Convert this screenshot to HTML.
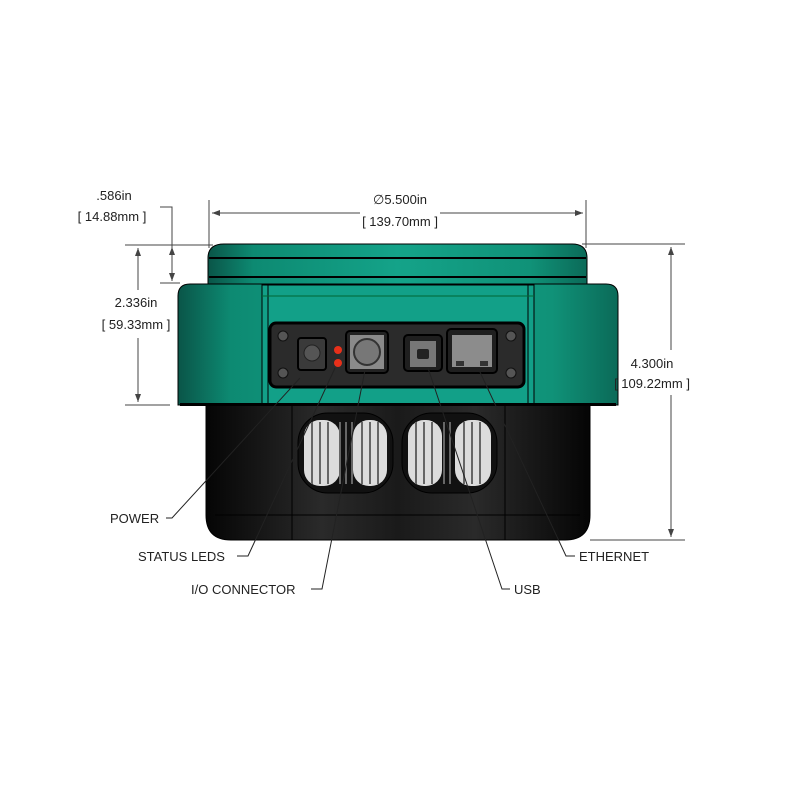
<!DOCTYPE html>
<html><head><meta charset="utf-8"><style>
html,body{margin:0;padding:0;background:#fff}
svg{display:block}
text{font-family:"Liberation Sans",sans-serif;font-size:13px;fill:#222}
</style></head><body>
<svg width="800" height="800" viewBox="0 0 800 800" xmlns="http://www.w3.org/2000/svg">
<defs>
<linearGradient id="g" x1="0" x2="1" y1="0" y2="0">
<stop offset="0" stop-color="#0a5548"/><stop offset="0.12" stop-color="#0d8a72"/><stop offset="0.5" stop-color="#14a389"/><stop offset="0.85" stop-color="#109278"/><stop offset="1" stop-color="#0b6a58"/>
</linearGradient>
<linearGradient id="b" x1="0" x2="1" y1="0" y2="0">
<stop offset="0" stop-color="#050505"/><stop offset="0.3" stop-color="#2a2a2a"/><stop offset="0.5" stop-color="#1a1a1a"/><stop offset="0.7" stop-color="#2a2a2a"/><stop offset="1" stop-color="#050505"/>
</linearGradient>
<marker id="ar" markerWidth="8" markerHeight="6" refX="8" refY="3" orient="auto-start-reverse"><path d="M0,0 L8,3 L0,6z" fill="#444"/></marker>
</defs>

<path d="M206,400 H590 V515 Q590,540 565,540 H231 Q206,540 206,515 Z" fill="url(#b)" stroke="#000"/>
<line x1="292" y1="405" x2="292" y2="540" stroke="#000"/>
<line x1="505" y1="405" x2="505" y2="540" stroke="#000"/>
<line x1="215" y1="515" x2="580" y2="515" stroke="#000"/>
<g>
<rect x="298" y="413" width="95" height="80" rx="30" fill="#111" stroke="#000"/>
<rect x="402" y="413" width="95" height="80" rx="30" fill="#111" stroke="#000"/>
<g fill="#dcdcdc">
<rect x="304" y="420" width="36" height="66" rx="16"/>
<rect x="353" y="420" width="34" height="66" rx="16"/>
<rect x="408" y="420" width="34" height="66" rx="16"/>
<rect x="455" y="420" width="36" height="66" rx="16"/>
</g>
<g stroke="#666" stroke-width="2">
<line x1="312" y1="422" x2="312" y2="484"/><line x1="320" y1="422" x2="320" y2="484"/><line x1="328" y1="422" x2="328" y2="484"/>
<line x1="340" y1="422" x2="340" y2="484"/><line x1="346" y1="422" x2="346" y2="484"/><line x1="352" y1="422" x2="352" y2="484"/>
<line x1="362" y1="422" x2="362" y2="484"/><line x1="370" y1="422" x2="370" y2="484"/><line x1="378" y1="422" x2="378" y2="484"/>
<line x1="416" y1="422" x2="416" y2="484"/><line x1="424" y1="422" x2="424" y2="484"/><line x1="432" y1="422" x2="432" y2="484"/>
<line x1="444" y1="422" x2="444" y2="484"/><line x1="450" y1="422" x2="450" y2="484"/>
<line x1="464" y1="422" x2="464" y2="484"/><line x1="472" y1="422" x2="472" y2="484"/><line x1="480" y1="422" x2="480" y2="484"/>
</g>
</g>

<path d="M208,284 V258 Q208,244 224,244 H572 Q587,244 587,258 V284 Z" fill="url(#g)" stroke="#000"/>
<line x1="209" y1="258" x2="586" y2="258" stroke="#000" stroke-width="2"/>
<line x1="209" y1="277" x2="586" y2="277" stroke="#000" stroke-width="2"/>
<path d="M178,405 V296 Q178,284 190,284 H606 Q618,284 618,296 V405 Z" fill="url(#g)" stroke="#000"/>
<rect x="262" y="285" width="272" height="120" fill="#12a088" stroke="#000"/>
<line x1="268" y1="285" x2="268" y2="405" stroke="#000"/>
<line x1="528" y1="285" x2="528" y2="405" stroke="#000"/>
<line x1="262" y1="296" x2="534" y2="296" stroke="#063" stroke-width="1"/>
<rect x="180" y="403" width="436" height="3" fill="#000"/>

<rect x="270" y="323" width="254" height="64" rx="6" fill="#2b2b2b" stroke="#000" stroke-width="3"/>
<g fill="#555" stroke="#111"><circle cx="283" cy="336" r="5"/><circle cx="283" cy="373" r="5"/><circle cx="511" cy="336" r="5"/><circle cx="511" cy="373" r="5"/></g>
<rect x="298" y="338" width="28" height="32" rx="3" fill="#3a3a3a" stroke="#000" stroke-width="2"/>
<circle cx="312" cy="353" r="8" fill="#555" stroke="#222"/>
<circle cx="338" cy="350" r="4" fill="#e8301a"/><circle cx="338" cy="363" r="4" fill="#e8301a"/>
<rect x="346" y="331" width="42" height="42" rx="4" fill="#222" stroke="#000" stroke-width="2"/>
<rect x="350" y="335" width="34" height="34" fill="#8a8a8a"/>
<circle cx="367" cy="352" r="13" fill="#777" stroke="#333" stroke-width="2"/>
<rect x="404" y="335" width="38" height="36" rx="4" fill="#1f1f1f" stroke="#000" stroke-width="2"/>
<rect x="410" y="341" width="26" height="26" fill="#777"/>
<rect x="417" y="349" width="12" height="10" rx="2" fill="#222"/>
<rect x="447" y="329" width="50" height="44" rx="4" fill="#1f1f1f" stroke="#000" stroke-width="2"/>
<rect x="452" y="335" width="40" height="32" fill="#8c8c8c"/>
<rect x="456" y="361" width="8" height="5" fill="#333"/><rect x="480" y="361" width="8" height="5" fill="#333"/>

<g stroke="#444" stroke-width="1" fill="none">
<line x1="209" y1="200" x2="209" y2="248"/>
<line x1="586" y1="200" x2="586" y2="248"/>
<line x1="212" y1="213" x2="360" y2="213" marker-start="url(#ar)"/>
<line x1="440" y1="213" x2="583" y2="213" marker-end="url(#ar)"/>
<line x1="125" y1="245" x2="213" y2="245"/>
<line x1="582" y1="244" x2="685" y2="244"/>
<line x1="590" y1="540" x2="685" y2="540"/>
<line x1="671" y1="247" x2="671" y2="350" marker-start="url(#ar)"/>
<line x1="671" y1="395" x2="671" y2="537" marker-end="url(#ar)"/>
<polyline points="160,207 172,207 172,281"/>
<line x1="172" y1="247" x2="172" y2="281" marker-start="url(#ar)" marker-end="url(#ar)"/>
<line x1="160" y1="283" x2="180" y2="283"/>
<line x1="138" y1="248" x2="138" y2="290" marker-start="url(#ar)"/>
<line x1="138" y1="338" x2="138" y2="402" marker-end="url(#ar)"/>
<line x1="125" y1="405" x2="170" y2="405"/>
</g>
<text x="400" y="204" text-anchor="middle">∅5.500in</text>
<text x="400" y="226" text-anchor="middle">[ 139.70mm ]</text>
<text x="114" y="200" text-anchor="middle">.586in</text>
<text x="112" y="221" text-anchor="middle">[ 14.88mm ]</text>
<text x="136" y="307" text-anchor="middle">2.336in</text>
<text x="136" y="329" text-anchor="middle">[ 59.33mm ]</text>
<text x="652" y="368" text-anchor="middle">4.300in</text>
<text x="652" y="388" text-anchor="middle">[ 109.22mm ]</text>

<g stroke="#222" stroke-width="1" fill="none">
<polyline points="166,518 172,518 300,378"/>
<polyline points="237,556 248,556 335,368"/>
<polyline points="311,589 322,589 365,370"/>
<polyline points="510,589 502,589 428,368"/>
<polyline points="575,556 566,556 480,372"/>
</g>
<text x="110" y="523">POWER</text>
<text x="138" y="561">STATUS LEDS</text>
<text x="191" y="594">I/O CONNECTOR</text>
<text x="514" y="594">USB</text>
<text x="579" y="561">ETHERNET</text>
</svg>
</body></html>
